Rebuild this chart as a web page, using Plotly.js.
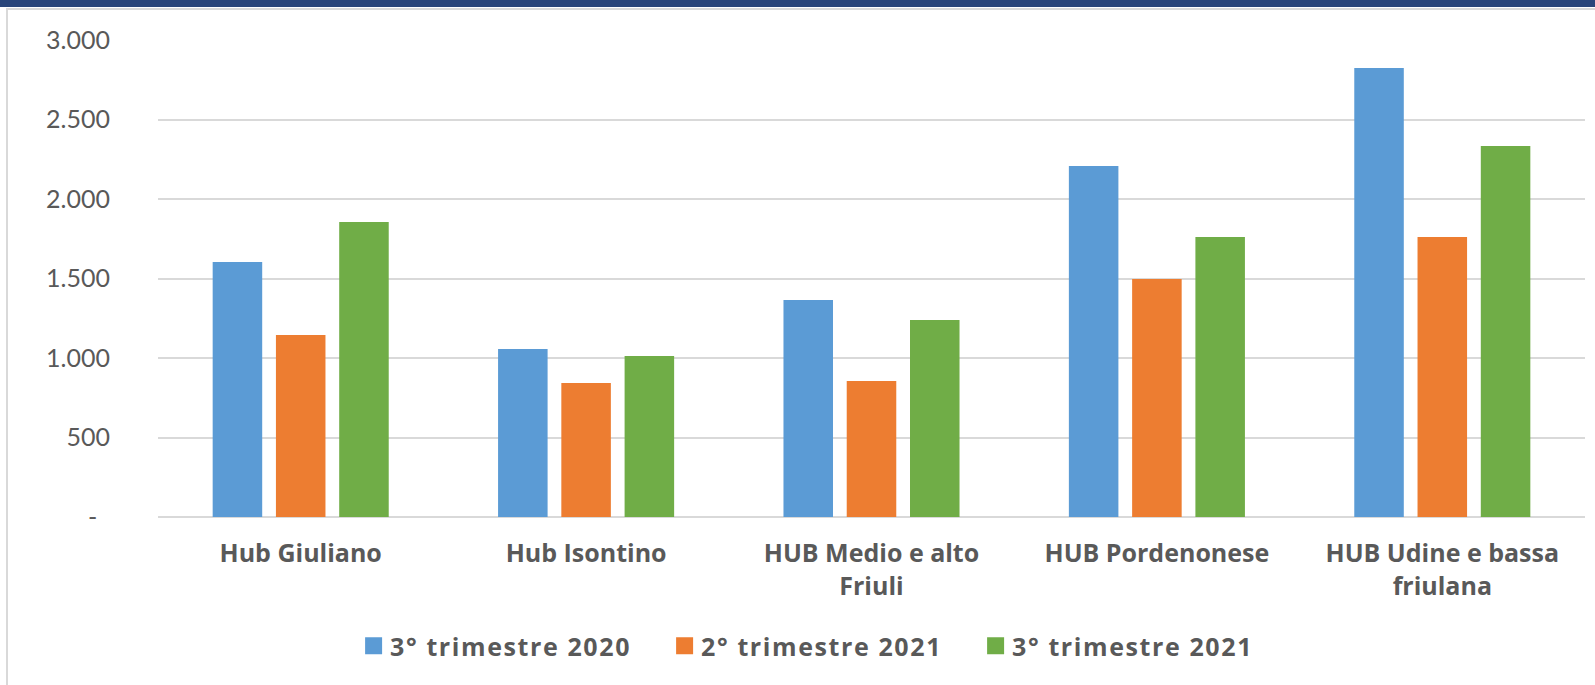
<!DOCTYPE html>
<html>
<head>
<meta charset="utf-8">
<script src="https://cdn.plot.ly/plotly-3.0.1.min.js"></script>
<style>
  html, body { margin: 0; padding: 0; background: #ffffff; }
  #wrap { position: relative; width: 1595px; height: 685px; overflow: hidden; }
  #chart { position: absolute; left: 0; top: 0; width: 1595px; height: 685px; }
  .band { position: absolute; left: 0; top: 0; width: 1595px; height: 7px; background: #29457a; pointer-events: none; }
  .frameTop { position: absolute; left: 6px; top: 8px; width: 1589px; height: 2px; background: #d9d9d9; pointer-events: none; }
  .frameLeft { position: absolute; left: 6px; top: 8px; width: 2px; height: 677px; background: #d9d9d9; pointer-events: none; }
  #chart .legendtext { letter-spacing: 1.6px; }
</style>
</head>
<body>
<div id="wrap">
  <div id="chart"></div>
  <div class="band"></div>
  <div class="frameTop"></div>
  <div class="frameLeft"></div>
</div>
<script>
const categories = [
  "Hub Giuliano",
  "Hub Isontino",
  "HUB Medio e alto<br>Friuli",
  "HUB Pordenonese",
  "HUB Udine e bassa<br>friulana"
];
const seriesNames = ["3° trimestre 2020", "2° trimestre 2021", "3° trimestre 2021"];
const q3_2020 = [1604, 1056, 1365, 2207, 2824];
const q2_2021 = [1145, 843, 855, 1497, 1761];
const q3_2021 = [1855, 1012, 1239, 1761, 2333];
const seriesColors = ["#5b9bd5", "#ed7d31", "#70ad47"];
const tickVals = [0, 500, 1000, 1500, 2000, 2500, 3000];
const tickLabels = ["-\u00a0\u00a0", "500", "1.000", "1.500", "2.000", "2.500", "3.000"];

const allSeries = [q3_2020, q2_2021, q3_2021];
const traces = allSeries.map((vals, i) => ({
  type: "bar",
  name: seriesNames[i],
  x: categories,
  y: vals,
  marker: { color: seriesColors[i] },
  hoverinfo: "x+y+name"
}));

const layout = {
  width: 1595,
  height: 685,
  margin: { l: 158, r: 10, t: 40, b: 168 },
  paper_bgcolor: "#ffffff",
  plot_bgcolor: "#ffffff",
  barmode: "group",
  bargap: 0.335,
  bargroupgap: 0.217,
  font: { family: "'Open Sans', Lato, sans-serif", color: "#595959" },
  xaxis: {
    type: "category",
    showgrid: false,
    showline: false,
    zeroline: false,
    ticks: "",
    tickfont: { family: "'Open Sans', sans-serif", size: 25, color: "#595959", weight: "bold" },
    ticklabelstandoff: 19
  },
  yaxis: {
    range: [0, 3000],
    tickmode: "array",
    tickvals: tickVals,
    ticktext: tickLabels,
    showgrid: true,
    gridcolor: "#d9d9d9",
    gridwidth: 2,
    zeroline: true,
    zerolinecolor: "#d9d9d9",
    zerolinewidth: 2,
    showline: false,
    ticks: "",
    tickfont: { family: "Lato, sans-serif", size: 25, color: "#595959" },
    ticklabelstandoff: 47
  },
  showlegend: true,
  legend: {
    orientation: "h",
    xref: "container",
    yref: "container",
    x: 0.2195,
    xanchor: "left",
    y: 1 - 646 / 685,
    yanchor: "middle",
    font: { family: "'Open Sans', sans-serif", size: 25, color: "#595959", weight: "bold" },
    entrywidth: 266,
    traceorder: "normal",
    bgcolor: "rgba(0,0,0,0)"
  }
};

function enlargeLegendSquares(gd) {
  gd.querySelectorAll(".legendpoints path").forEach(p => {
    p.setAttribute("d", "M12,8.5H-5V-8.5H12Z");
  });
}

Plotly.newPlot("chart", traces, layout, { displayModeBar: false, staticPlot: true })
  .then(gd => enlargeLegendSquares(gd));
</script>
</body>
</html>
